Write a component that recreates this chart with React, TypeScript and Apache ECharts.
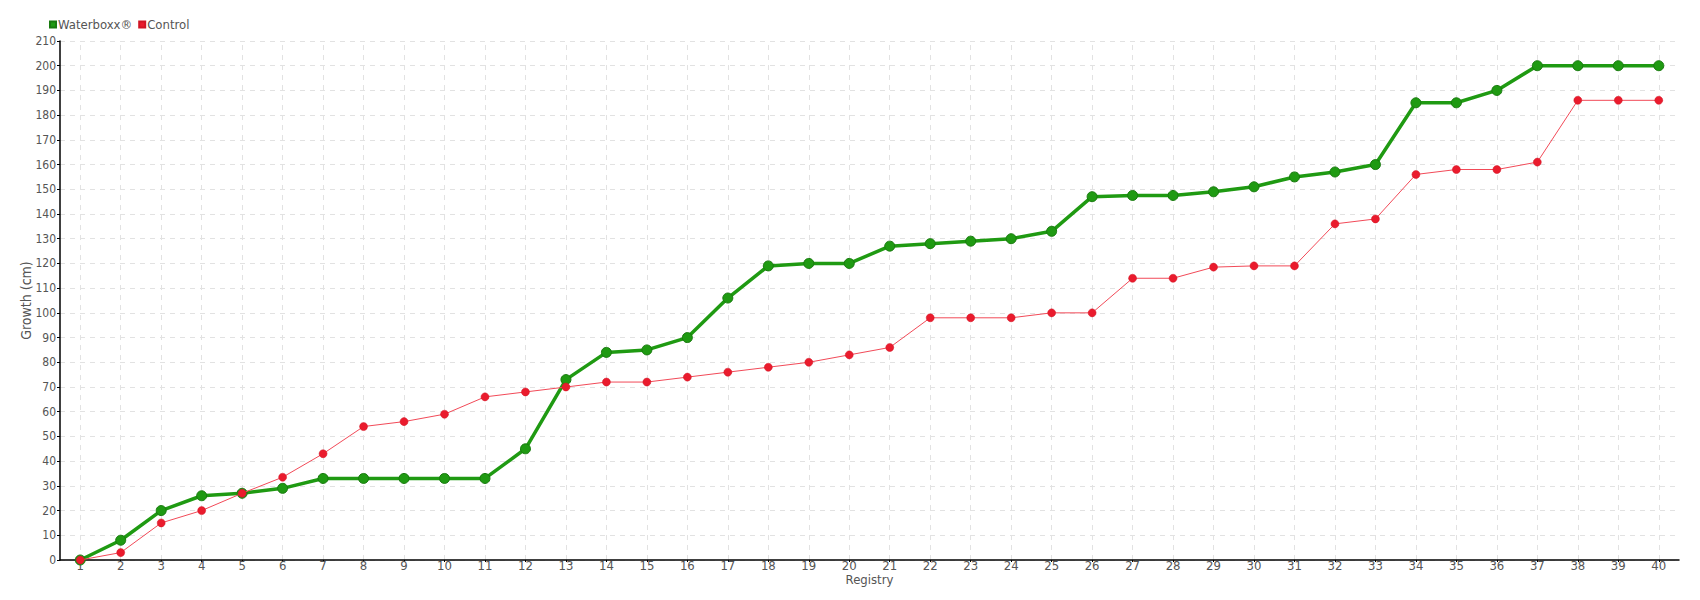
import React, { useEffect, useRef } from "react";
import * as echarts from "echarts";

const registries: string[] = Array.from({ length: 40 }, (_, i) => String(i + 1));

const waterboxx: number[] = [
  0, 8, 20, 26, 27, 29, 33, 33, 33, 33,
  33, 45, 73, 84, 85, 90, 106, 119, 120, 120,
  127, 128, 129, 130, 133, 147, 147.5, 147.5, 149, 151,
  155, 157, 160, 185, 185, 190, 200, 200, 200, 200,
];

const control: number[] = [
  0, 3, 15, 20, 27, 33.5, 43, 54, 56, 59,
  66, 68, 70, 72, 72, 74, 76, 78, 80, 83,
  86, 98, 98, 98, 100, 100, 114, 114, 118.5, 119,
  119, 136, 138, 156, 158, 158, 161, 186, 186, 186,
];

const FONT = "'DejaVu Sans Condensed', 'Liberation Sans Narrow', sans-serif";
const GRID_COLOR = "#e2e2e2";

export default function App() {
  const ref = useRef<HTMLDivElement>(null);
  useEffect(() => {
    if (!ref.current) return;
    const chart = echarts.init(ref.current, null, { renderer: "svg" });
    chart.setOption({
      animation: false,
      backgroundColor: "#ffffff",
      textStyle: { fontFamily: FONT },
      legend: {
        left: 44,
        top: 13,
        icon: "rect",
        itemWidth: 6,
        itemHeight: 6,
        itemGap: 6,
        textStyle: { color: "#555", fontSize: 13, fontFamily: FONT, padding: [0, 0, 0, -3] },
        data: ["Waterboxx®", "Control"],
      },
      grid: { left: 60, top: 41, right: 21, bottom: 40, containLabel: false },
      xAxis: {
        type: "category",
        data: registries,
        boundaryGap: true,
        name: "Registry",
        nameLocation: "middle",
        nameGap: 13,
        nameMoveOverlap: false,
        nameTextStyle: { color: "#555", fontSize: 13, fontFamily: FONT },
        axisLine: { lineStyle: { color: "#000", width: 1.5 } },
        axisTick: { show: true, alignWithLabel: true, length: 2, lineStyle: { color: "#000" } },
        axisLabel: { color: "#555", fontSize: 13, margin: -1, fontFamily: FONT },
        splitLine: { show: false },
      },
      yAxis: {
        type: "value",
        min: 0,
        max: 210,
        interval: 10,
        name: "Growth (cm)",
        nameLocation: "middle",
        nameGap: 27,
        nameMoveOverlap: false,
        nameTextStyle: { color: "#555", fontSize: 14, fontFamily: FONT },
        axisLine: { show: true, lineStyle: { color: "#000", width: 1.5 } },
        axisTick: { show: true, length: 3, lineStyle: { color: "#000" } },
        axisLabel: { color: "#555", fontSize: 12, margin: 4, fontFamily: FONT },
        splitLine: { show: true, lineStyle: { color: GRID_COLOR, type: [5, 5], width: 1 } },
      },
      series: [
        {
          name: "grid-verticals",
          type: "line",
          data: [],
          z: 0,
          silent: true,
          markLine: {
            z: 0,
            silent: true,
            symbol: ["none", "none"],
            label: { show: false },
            lineStyle: { color: GRID_COLOR, type: [5, 5], width: 1 },
            emphasis: { disabled: true },
            data: registries.map((r) => ({ xAxis: r })),
          },
        },
        {
          name: "Waterboxx®",
          type: "line",
          data: waterboxx,
          symbol: "circle",
          symbolSize: 10,
          z: 2,
          itemStyle: { color: "#1f9a12", borderColor: "#187a0e", borderWidth: 1 },
          lineStyle: { color: "#1f9a12", width: 3.5 },
        },
        {
          name: "Control",
          type: "line",
          data: control,
          symbol: "circle",
          symbolSize: 8,
          z: 3,
          itemStyle: { color: "#ea1b2d", borderColor: "#d01525", borderWidth: 0.5 },
          lineStyle: { color: "#f24a58", width: 1 },
        },
      ],
    });
    return () => chart.dispose();
  }, []);
  return (
    <div
      ref={ref}
      style={{ position: "fixed", left: 0, top: 0, width: 1700, height: 600 }}
    />
  );
}
